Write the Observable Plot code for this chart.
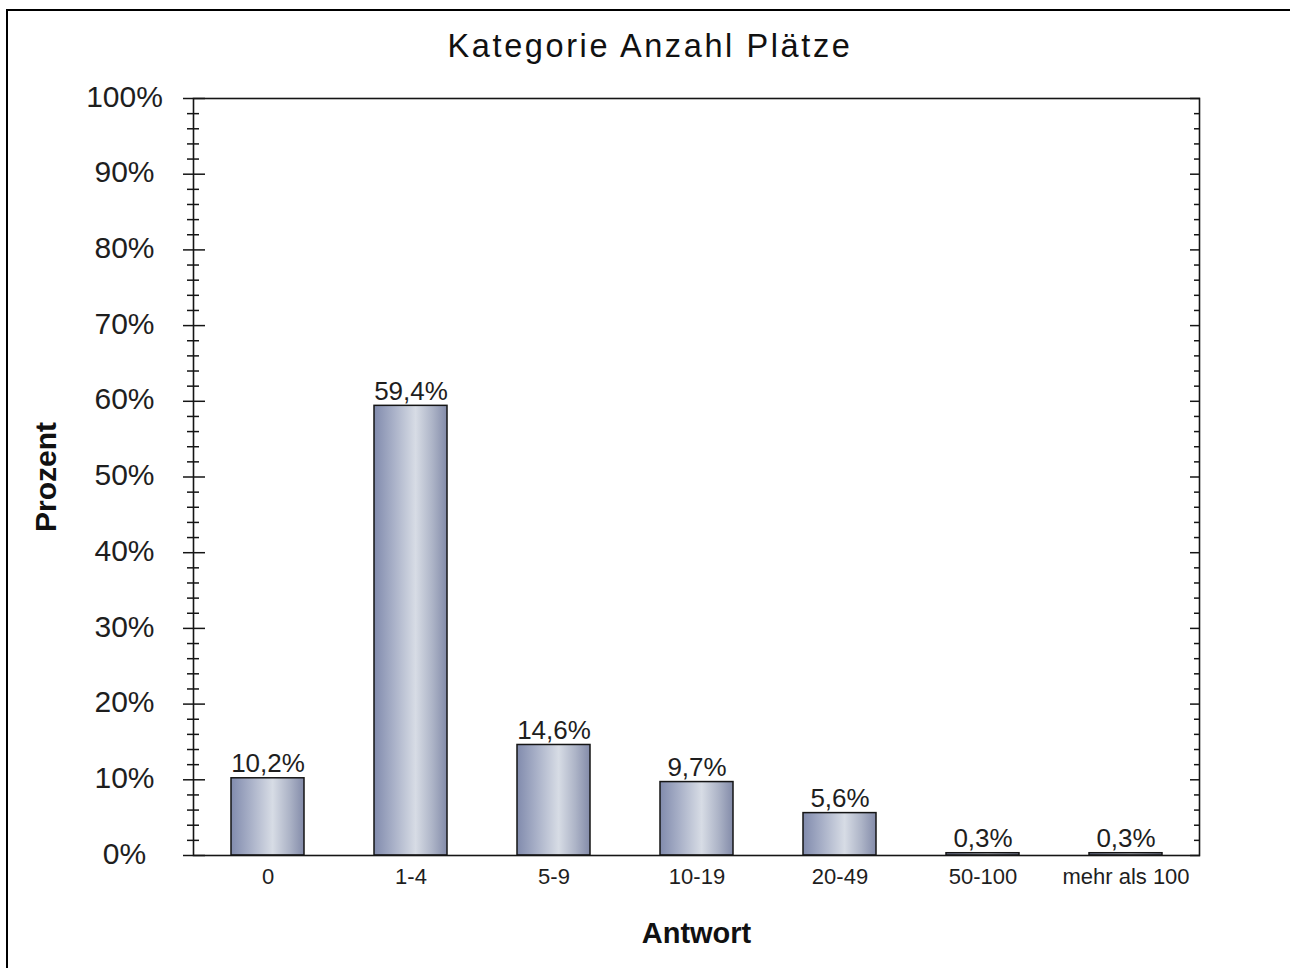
<!DOCTYPE html>
<html>
<head>
<meta charset="utf-8">
<script src="https://cdn.jsdelivr.net/npm/d3@7"></script>
<script src="https://cdn.jsdelivr.net/npm/@observablehq/plot@0.6"></script>
<style>
  html, body { margin: 0; padding: 0; background: #fff; overflow: hidden; }
  #page { position: relative; width: 1290px; height: 968px; overflow: hidden; background: #fff;
          font-family: "Liberation Sans", Arial, sans-serif; }
  #outer { position: absolute; left: 6px; top: 9px; width: 1400px; height: 1100px;
           border-left: 2px solid #000; border-top: 2px solid #000; }
  #title { position: absolute; left: 0; top: 30px; width: 1300px; text-align: center;
           font-size: 32.5px; line-height: 32.5px; letter-spacing: 2.6px; color: #111; }
  #chart { position: absolute; left: 0; top: 60px; }
</style>
</head>
<body>
<div id="page">
  <div id="outer"></div>
  <div id="title">Kategorie Anzahl Plätze</div>
  <div id="chart"></div>
</div>
<script>
const categories = ["0", "1-4", "5-9", "10-19", "20-49", "50-100", "mehr als 100"];
const values = [10.2, 59.4, 14.6, 9.7, 5.6, 0.3, 0.3];
const valueLabels = ["10,2%", "59,4%", "14,6%", "9,7%", "5,6%", "0,3%", "0,3%"];
const yTicks = [0, 10, 20, 30, 40, 50, 60, 70, 80, 90, 100];
const yTickLabels = ["0%", "10%", "20%", "30%", "40%", "50%", "60%", "70%", "80%", "90%", "100%"];
const yMinorTicks = [2, 4, 6, 8, 12, 14, 16, 18, 22, 24, 26, 28, 32, 34, 36, 38, 42, 44, 46, 48,
  52, 54, 56, 58, 62, 64, 66, 68, 72, 74, 76, 78, 82, 84, 86, 88, 92, 94, 96, 98];
const xTitle = "Antwort";
const yTitle = "Prozent";

const data = categories.map((c, i) => ({cat: c, value: values[i], label: valueLabels[i]}));

const gradientDefs = () => {
  const defs = d3.create("svg:defs");
  const g = defs.append("linearGradient").attr("id", "barGrad")
    .attr("x1", 0).attr("x2", 1).attr("y1", 0).attr("y2", 0);
  [["0%", "#818bad"], ["25%", "#a6aec6"], ["57%", "#d7dce5"], ["80%", "#adb4c7"], ["100%", "#838ba9"]]
    .forEach(([o, c]) => g.append("stop").attr("offset", o).attr("stop-color", c));
  return defs.node();
};

const ink = "#151515";

const chart = Plot.plot({
  width: 1290,
  height: 908,
  marginLeft: 193,
  marginRight: 91,
  marginTop: 38,
  marginBottom: 113,
  style: {fontFamily: "'Liberation Sans', Arial, sans-serif", background: "transparent", color: ink, overflow: "visible"},
  x: {domain: categories, paddingInner: 0.49, paddingOuter: 0.245},
  y: {domain: [0, 100]},
  marks: [
    gradientDefs,
    Plot.barY(data, {x: "cat", y: "value", fill: "url(#barGrad)", stroke: ink, strokeWidth: 1.5}),
    Plot.frame({stroke: ink, strokeWidth: 1.6}),
    // left axis ticks crossing the axis line
    Plot.axisY(yTicks, {anchor: "left", tickSize: 22, insetLeft: 12, fill: "none", stroke: ink, strokeWidth: 1.5, tickFormat: () => "", label: null}),
    Plot.axisY(yMinorTicks, {anchor: "left", tickSize: 12, insetLeft: 6, fill: "none", stroke: ink, strokeWidth: 1.5, tickFormat: () => "", label: null}),
    // right side inward ticks
    Plot.axisY(yTicks, {anchor: "right", tickSize: 10, insetRight: 10, fill: "none", stroke: ink, strokeWidth: 1.5, tickFormat: () => "", label: null}),
    Plot.axisY(yMinorTicks, {anchor: "right", tickSize: 6, insetRight: 6, fill: "none", stroke: ink, strokeWidth: 1.5, tickFormat: () => "", label: null}),
    // y tick labels
    Plot.axisY(yTicks, {anchor: "left", tickSize: 0, tickPadding: 69, textAnchor: "middle", fontSize: 30, dy: -1.5,
      fill: "#1e1e1e", tickFormat: d => yTickLabels[yTicks.indexOf(d)], label: null}),
    // x tick labels
    Plot.axisX({anchor: "bottom", tickSize: 0, tickPadding: 13, fontSize: 22, fill: "#1e1e1e", label: null}),
    // value labels
    Plot.text(data, {x: "cat", y: "value", text: "label", dy: -6, lineAnchor: "bottom", fontSize: 26, fill: "#1e1e1e"}),
    // axis titles
    Plot.text([xTitle], {text: d => d, frameAnchor: "bottom", dy: 87, lineAnchor: "bottom", textAnchor: "middle", fontSize: 29, fontWeight: "bold", fill: "#111"}),
    Plot.text([yTitle], {text: d => d, frameAnchor: "left", dx: -138, rotate: -90, lineAnchor: "bottom", textAnchor: "middle", fontSize: 30, fontWeight: "bold", fill: "#111"})
  ]
});

document.getElementById("chart").appendChild(chart);
</script>
</body>
</html>
